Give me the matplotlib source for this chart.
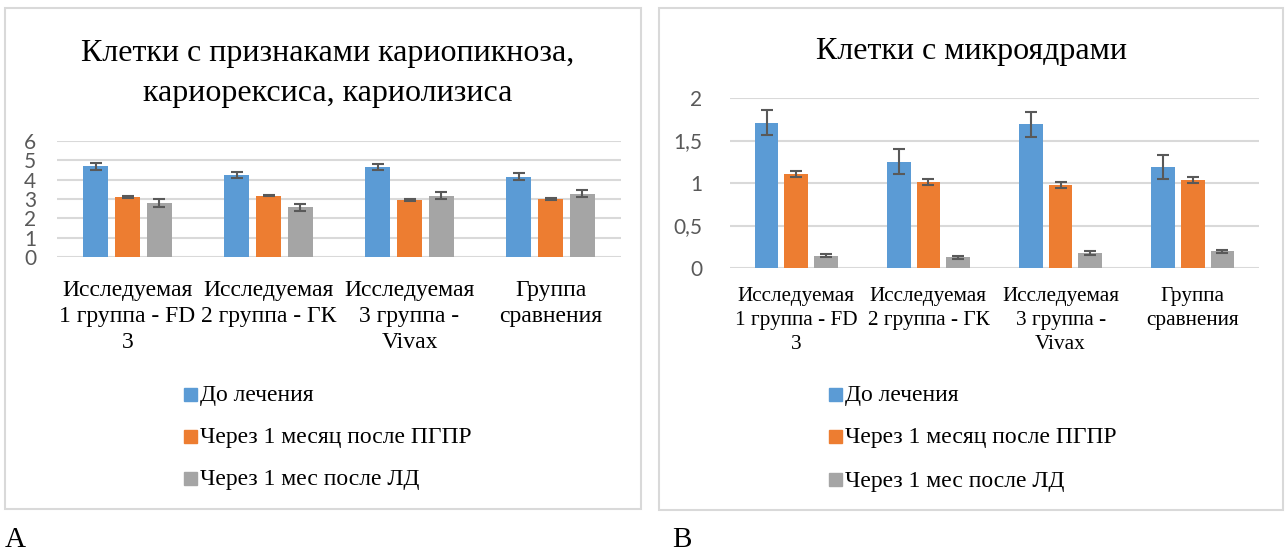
import matplotlib.pyplot as plt
import numpy as np
from matplotlib.patches import Rectangle

W, H = 1285, 555
SERIF = 'Liberation Serif'
TICK_FONT = 'Lato'

series = ['До лечения', 'Через 1 месяц после ПГПР', 'Через 1 мес после ЛД']
colors = ['#5B9BD5', '#ED7D31', '#A5A5A5']

cats = ['Исследуемая\n1 группа - FD\n3', 'Исследуемая\n2 группа - ГК',
        'Исследуемая\n3 группа -\nVivax', 'Группа\nсравнения']

# chart A: karyopyknosis / karyorrhexis / karyolysis
a_before = [4.69, 4.24, 4.66, 4.16]
a_pgpr = [3.09, 3.17, 2.95, 3.00]
a_ld = [2.78, 2.57, 3.17, 3.28]
a_before_err = [0.17, 0.15, 0.16, 0.16]
a_pgpr_err = [0.04, 0.04, 0.04, 0.04]
a_ld_err = [0.20, 0.19, 0.19, 0.19]

# chart B: micronuclei
b_before = [1.71, 1.25, 1.69, 1.19]
b_pgpr = [1.11, 1.01, 0.98, 1.04]
b_ld = [0.145, 0.125, 0.176, 0.196]
b_before_err = [0.143, 0.145, 0.143, 0.14]
b_pgpr_err = [0.035, 0.033, 0.035, 0.035]
b_ld_err = [0.02, 0.02, 0.02, 0.02]

fig = plt.figure(figsize=(W / 100, H / 100), dpi=100)


def px_axes(x0, y0, x1, y1):
    return fig.add_axes([x0 / W, 1 - y1 / H, (x1 - x0) / W, (y1 - y0) / H])


def panel(x0, y0, x1, y1):
    fig.patches.append(Rectangle((x0 / W, 1 - y1 / H), (x1 - x0) / W, (y1 - y0) / H,
                                 transform=fig.transFigure, fill=False,
                                 edgecolor='#D9D9D9', linewidth=1.5))


def draw_bars(ax, vals, errs, ymax, step, ticklabels, tick_pad, label_y, label_size, label_ls):
    x = np.arange(len(cats))
    width = 0.178
    offs = [-0.224, 0, 0.224]
    for v, e, c, o in zip(vals, errs, colors, offs):
        ax.bar(x + o, v, width, color=c, zorder=2)
        ax.errorbar(x + o, v, yerr=e, fmt='none', ecolor='#595959',
                    elinewidth=1.5, capsize=4.5, capthick=1.5, zorder=3)
    ax.set_xlim(-0.5, len(cats) - 0.5)
    ax.set_ylim(0, ymax)
    ax.set_yticks(np.arange(0, ymax + step / 2, step))
    ax.set_yticklabels(ticklabels, fontfamily=TICK_FONT, fontsize=15, color='#595959')
    ax.tick_params(axis='y', length=0, pad=tick_pad)
    ax.set_xticks([])
    ax.grid(axis='y', color='#D9D9D9', linewidth=1.5, zorder=0)
    for s in ax.spines.values():
        s.set_visible(False)
    for i, lab in enumerate(cats):
        ax.text(i, label_y, lab, transform=ax.get_xaxis_transform(),
                ha='center', va='top', fontfamily=SERIF, fontsize=label_size,
                linespacing=label_ls)


def legend_rows(x, ys):
    for lab, c, y in zip(series, colors, ys):
        fig.patches.append(Rectangle((x / W, 1 - (y + 5) / H), 13 / W, 13 / H,
                                     transform=fig.transFigure, color=c))
        fig.text((x + 16) / W, 1 - y / H, lab, ha='left', va='center',
                 fontfamily=SERIF, fontsize=17)


# panel A
panel(5, 8, 641, 509)
axA = px_axes(57, 141, 621, 257)
draw_bars(axA, [a_before, a_pgpr, a_ld], [a_before_err, a_pgpr_err, a_ld_err],
          6, 1, [str(i) for i in range(7)], 15, -0.195, 17, 1.32)
fig.text(328 / W, 1 - 74 / H, 'Клетки с признаками кариопикноза,\nкариорексиса, кариолизиса',
         ha='center', va='center', fontfamily=SERIF, fontsize=23, linespacing=1.5)
legend_rows(184, [396, 438, 480])
fig.text(5 / W, 1 - 540 / H, 'А', ha='left', va='center', fontfamily=SERIF, fontsize=21)

# panel B
panel(659, 8, 1283, 510)
axB = px_axes(730, 98, 1259, 268)
draw_bars(axB, [b_before, b_pgpr, b_ld], [b_before_err, b_pgpr_err, b_ld_err],
          2, 0.5, ['0', '0,5', '1', '1,5', '2'], 20, -0.112, 15.3, 1.34)
fig.text(971 / W, 1 - 51 / H, 'Клетки с микроядрами', ha='center', va='center',
         fontfamily=SERIF, fontsize=23)
legend_rows(829, [396, 438, 481])
fig.text(672 / W, 1 - 540 / H, 'В', ha='left', va='center', fontfamily=SERIF, fontsize=21)

fig.savefig('out.png', dpi=100)
